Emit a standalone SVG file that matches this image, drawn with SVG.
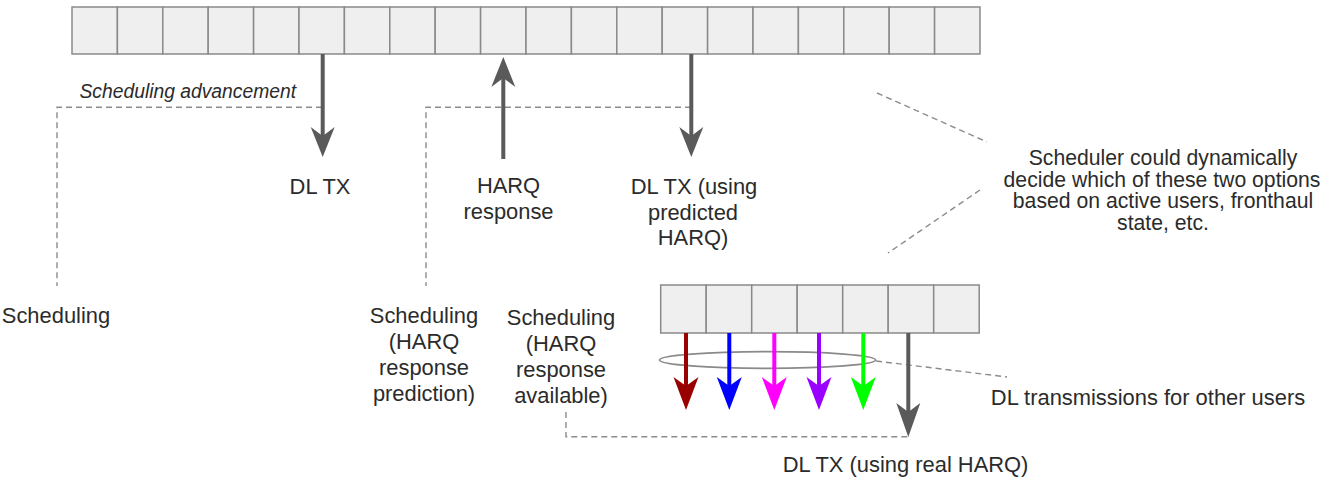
<svg xmlns="http://www.w3.org/2000/svg" width="1336" height="480" viewBox="0 0 1336 480">
<style>
.cell{fill:#efefef;stroke:#8a8a8a;stroke-width:1.5}
.t{font-family:"Liberation Sans",Arial,sans-serif;font-size:21.9px;fill:#2b2b2b;text-anchor:middle}
.tr{font-family:"Liberation Sans",Arial,sans-serif;font-size:21.2px;fill:#2b2b2b;text-anchor:middle}
.ti{font-family:"Liberation Sans",Arial,sans-serif;font-size:19.3px;font-style:italic;fill:#2b2b2b}
.dash{fill:none;stroke:#8c8c8c;stroke-width:1.4;stroke-dasharray:6 4}
.shaft{stroke-width:4;fill:none}
</style>
<rect x="0" y="0" width="1336" height="480" fill="#ffffff"/>
<g id="topBar">
<rect class="cell" x="72.0" y="7" width="45.4" height="47"/>
<rect class="cell" x="117.4" y="7" width="45.4" height="47"/>
<rect class="cell" x="162.8" y="7" width="45.4" height="47"/>
<rect class="cell" x="208.2" y="7" width="45.4" height="47"/>
<rect class="cell" x="253.6" y="7" width="45.4" height="47"/>
<rect class="cell" x="299.0" y="7" width="45.4" height="47"/>
<rect class="cell" x="344.4" y="7" width="45.4" height="47"/>
<rect class="cell" x="389.8" y="7" width="45.4" height="47"/>
<rect class="cell" x="435.2" y="7" width="45.4" height="47"/>
<rect class="cell" x="480.6" y="7" width="45.4" height="47"/>
<rect class="cell" x="526.0" y="7" width="45.4" height="47"/>
<rect class="cell" x="571.4" y="7" width="45.4" height="47"/>
<rect class="cell" x="616.8" y="7" width="45.4" height="47"/>
<rect class="cell" x="662.2" y="7" width="45.4" height="47"/>
<rect class="cell" x="707.6" y="7" width="45.4" height="47"/>
<rect class="cell" x="753.0" y="7" width="45.4" height="47"/>
<rect class="cell" x="798.4" y="7" width="45.4" height="47"/>
<rect class="cell" x="843.8" y="7" width="45.4" height="47"/>
<rect class="cell" x="889.2" y="7" width="45.4" height="47"/>
<rect class="cell" x="934.6" y="7" width="45.4" height="47"/>
</g>
<g id="bottomBar">
<rect class="cell" x="660.7" y="285" width="45.5" height="48"/>
<rect class="cell" x="706.2" y="285" width="45.5" height="48"/>
<rect class="cell" x="751.7" y="285" width="45.5" height="48"/>
<rect class="cell" x="797.2" y="285" width="45.5" height="48"/>
<rect class="cell" x="842.7" y="285" width="45.5" height="48"/>
<rect class="cell" x="888.2" y="285" width="45.5" height="48"/>
<rect class="cell" x="933.7" y="285" width="45.5" height="48"/>
</g>
<g id="connectors">
<polyline class="dash" points="322,107.3 57,107.3 57,286"/>
<polyline class="dash" points="691,107.3 426,107.3 426,286"/>
<line class="dash" x1="877" y1="93" x2="987" y2="142"/>
<line class="dash" x1="980" y1="190" x2="888" y2="253"/>
<line class="dash" x1="876" y1="361" x2="1007" y2="377"/>
<polyline class="dash" points="566,412 566,436.7 908,436.7"/>
<line class="shaft" stroke="#5a5a5a" x1="322.7" y1="54" x2="322.7" y2="140"/>
<path fill="#5a5a5a" d="M322.7,157 L310.7,127 L322.7,136 L334.7,127 Z"/>
<line class="shaft" stroke="#5a5a5a" x1="503.3" y1="159" x2="503.3" y2="76"/>
<path fill="#5a5a5a" d="M503.3,57 L491.3,87 L503.3,78 L515.3,87 Z"/>
<line class="shaft" stroke="#5a5a5a" x1="691.3" y1="54" x2="691.3" y2="140"/>
<path fill="#5a5a5a" d="M691.3,157 L679.3,127 L691.3,136 L703.3,127 Z"/>
<ellipse cx="767.5" cy="360" rx="108" ry="8.3" fill="none" stroke="#8a8a8a" stroke-width="1.8"/>
<line class="shaft" stroke="#990000" stroke-width="3.8" x1="686" y1="333" x2="686" y2="392"/>
<path fill="#990000" d="M686,410 L673.5,377 L686,386 L698.5,377 Z"/>
<line class="shaft" stroke="#0000ff" stroke-width="3.8" x1="729.3" y1="333" x2="729.3" y2="392"/>
<path fill="#0000ff" d="M729.3,410 L716.8,377 L729.3,386 L741.8,377 Z"/>
<line class="shaft" stroke="#ff00ff" stroke-width="3.8" x1="774.3" y1="333" x2="774.3" y2="392"/>
<path fill="#ff00ff" d="M774.3,410 L761.8,377 L774.3,386 L786.8,377 Z"/>
<line class="shaft" stroke="#9900ff" stroke-width="3.8" x1="819" y1="333" x2="819" y2="392"/>
<path fill="#9900ff" d="M819,410 L806.5,377 L819,386 L831.5,377 Z"/>
<line class="shaft" stroke="#00ff00" stroke-width="3.8" x1="863.3" y1="333" x2="863.3" y2="392"/>
<path fill="#00ff00" d="M863.3,410 L850.8,377 L863.3,386 L875.8,377 Z"/>
<line class="shaft" stroke="#5a5a5a" x1="908.3" y1="333" x2="908.3" y2="418"/>
<path fill="#5a5a5a" d="M908.3,437 L896.3,403 L908.3,412 L920.3,403 Z"/>
</g>
<g id="labels">
<text class="ti" x="79.5" y="98">Scheduling advancement</text>
<text class="t" x="320" y="194">DL TX</text>
<text class="t" x="508.5" y="193">HARQ</text>
<text class="t" x="508.5" y="218.5">response</text>
<text class="t" x="694" y="194">DL TX (using</text>
<text class="t" x="693" y="219.5">predicted</text>
<text class="t" x="693" y="245">HARQ)</text>
<text class="t" x="56" y="323">Scheduling</text>
<text class="t" x="424" y="323">Scheduling</text>
<text class="t" x="424" y="349">(HARQ</text>
<text class="t" x="424" y="375">response</text>
<text class="t" x="424" y="401">prediction)</text>
<text class="t" x="561" y="325">Scheduling</text>
<text class="t" x="561" y="351">(HARQ</text>
<text class="t" x="561" y="377">response</text>
<text class="t" x="561" y="403">available)</text>
<text class="t" x="905.5" y="472">DL TX (using real HARQ)</text>
<text class="t" x="1148" y="405">DL transmissions for other users</text>
<text class="tr" x="1163" y="165">Scheduler could dynamically</text>
<text class="tr" x="1162" y="186.7">decide which of these two options</text>
<text class="tr" x="1163" y="208.3">based on active users, fronthaul</text>
<text class="tr" x="1163" y="230">state, etc.</text>
</g>
</svg>
